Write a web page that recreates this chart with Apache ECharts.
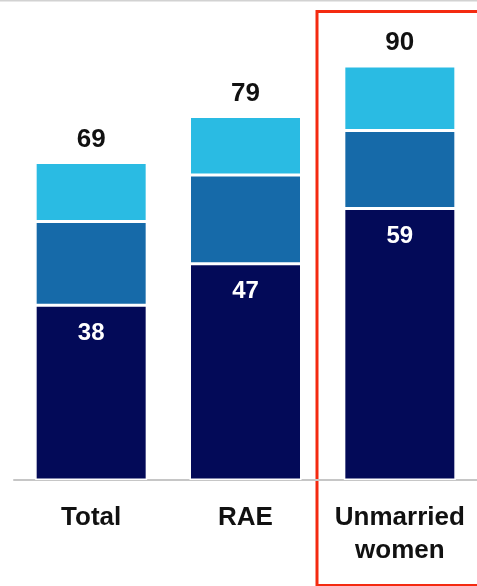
<!DOCTYPE html>
<html>
<head>
<meta charset="utf-8">
<script src="https://cdn.jsdelivr.net/npm/echarts@6/dist/echarts.min.js"></script>
<style>
  html, body { margin: 0; padding: 0; background: #fff; }
  #chart { width: 477px; height: 586px; }
</style>
</head>
<body>
<div id="chart"></div>
<script>
// Stacked shares by group
const categories = ['Total', 'RAE', 'Unmarried\nwomen'];
const baseValues = [38, 47, 59];
const midValues = [18.2, 19.3, 17];
const topValues = [12.8, 12.7, 14];
const totals = [69, 79, 90];

const FONT = '"Liberation Sans", Arial, sans-serif';

const chart = echarts.init(document.getElementById('chart'), null, { renderer: 'canvas' });

const segStyle = (color) => ({ color: color, borderColor: '#ffffff', borderWidth: 1.5 });

chart.setOption({
  animation: false,
  backgroundColor: '#ffffff',
  grid: { left: 14, width: 465, top: 20, bottom: 106, containLabel: false },
  xAxis: {
    type: 'category',
    data: categories,
    axisTick: { show: false },
    axisLine: { lineStyle: { color: '#c6c6c6', width: 2 } },
    axisLabel: {
      interval: 0,
      hideOverlap: false,
      color: '#111111',
      fontFamily: FONT,
      fontWeight: 'bold',
      fontSize: 26,
      lineHeight: 33,
      margin: 21
    }
  },
  yAxis: { type: 'value', min: 0, max: 100, show: false, splitLine: { show: false } },
  series: [
    {
      type: 'bar', stack: 's', data: baseValues, barWidth: 112,
      itemStyle: segStyle('#030a58'),
      label: {
        show: true, position: 'insideTop', distance: 16,
        color: '#ffffff', fontFamily: FONT, fontWeight: 'bold', fontSize: 24
      }
    },
    {
      type: 'bar', stack: 's', data: midValues, barWidth: 112,
      itemStyle: segStyle('#166aa9')
    },
    {
      type: 'bar', stack: 's', data: topValues, barWidth: 112,
      itemStyle: segStyle('#2abbe3'),
      label: {
        show: true, position: 'top', distance: 10,
        color: '#111111', fontFamily: FONT, fontWeight: 'bold', fontSize: 26,
        formatter: (p) => String(totals[p.dataIndex])
      }
    }
  ],
  graphic: [
    {
      type: 'line', silent: true,
      shape: { x1: 0, y1: 0.5, x2: 477, y2: 0.5 },
      style: { stroke: '#d2d2d2', lineWidth: 2 }
    },
    {
      type: 'rect', silent: true,
      shape: { x: 317, y: 11.5, width: 200, height: 574 },
      style: { fill: 'none', stroke: '#f42a10', lineWidth: 3 }
    }
  ]
});
</script>
</body>
</html>
